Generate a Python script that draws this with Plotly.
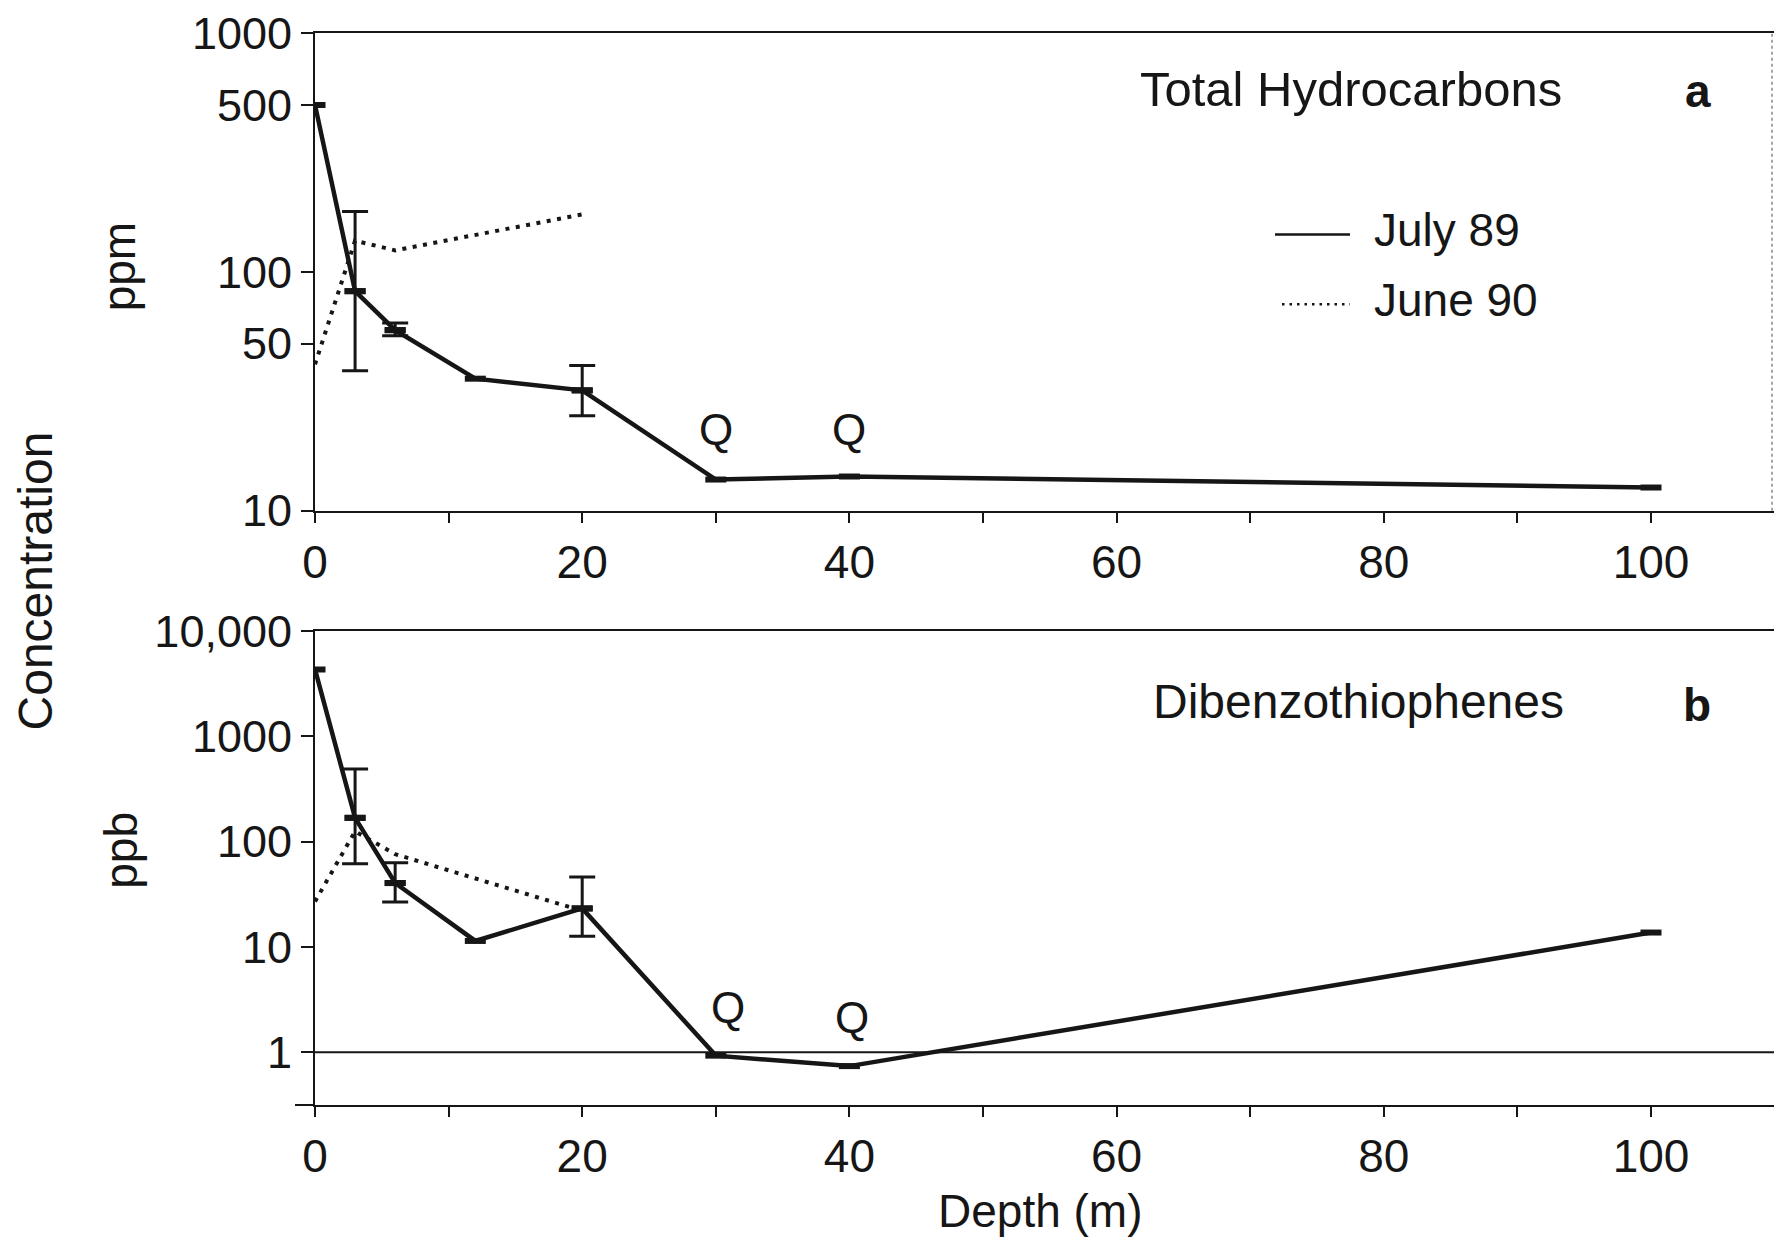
import plotly.graph_objects as go

# ---------------- data ----------------
depth_jul = [0, 3, 6, 12, 20, 30, 40, 100]
thc_jul = [500, 83, 57, 35.7, 31.9, 13.5, 13.9, 12.5]
thc_jul_hi = [None, 179, 61, None, 40.5, None, None, None]
thc_jul_lo = [None, 38.5, 54, None, 25, None, None, None]

depth_jun = [0, 3, 6, 20]
thc_jun = [41, 135, 123, 174]

dbt_jul = [4300, 168, 40.4, 11.4, 23.2, 0.93, 0.74, 13.7]
dbt_jul_hi = [None, 488, 63, None, 46, None, None, None]
dbt_jul_lo = [None, 61.7, 26.7, None, 12.6, None, None, None]

dbt_jun = [27, 125, 76, 22]

x_ticks = [0, 20, 40, 60, 80, 100]
thc_ticks = [10, 50, 100, 500, 1000]
thc_ticktext = ["10", "50", "100", "500", "1000"]
dbt_ticks = [1, 10, 100, 1000, 10000]
dbt_ticktext = ["1", "10", "100", "1000", "10,000"]
q_depths = [30, 40]

# ---------------- style ----------------
INK = "#161616"
FONT = "Liberation Sans, Arial, Helvetica, sans-serif"
OFF = 8  # page body margin
W, H = 1782 - 2 * OFF, 1249 - 2 * OFF
ML = 315 - OFF
MT = 30 - OFF
MR = 0
MB = H - (1105 - OFF)
PW, PH = W - ML - MR, H - MT - MB


def px_x(p):
    return (p - OFF - ML) / PW


def px_y(p):
    return (H - MB - (p - OFF)) / PH


marker_style = dict(symbol="line-ew", size=15, line=dict(color=INK, width=6), color=INK)

fig = go.Figure()


def add_panel(vals, hi, lo, jun, xa, ya):
    fig.add_trace(go.Scatter(
        x=depth_jul, y=vals, mode="lines+markers", xaxis=xa, yaxis=ya,
        line=dict(color=INK, width=4.5), marker=marker_style, showlegend=False,
        hoverinfo="x+y"))
    idx = [i for i in range(len(vals)) if hi[i] is not None]
    fig.add_trace(go.Scatter(
        x=[depth_jul[i] for i in idx], y=[vals[i] for i in idx], mode="markers",
        xaxis=xa, yaxis=ya, marker=marker_style, showlegend=False,
        error_y=dict(type="data", symmetric=False,
                     array=[hi[i] - vals[i] for i in idx],
                     arrayminus=[vals[i] - lo[i] for i in idx],
                     color=INK, thickness=3, width=13)))
    fig.add_trace(go.Scatter(
        x=depth_jun, y=jun, mode="lines", xaxis=xa, yaxis=ya,
        line=dict(color=INK, width=4, dash="4px,6.5px"), showlegend=False))


add_panel(thc_jul, thc_jul_hi, thc_jul_lo, thc_jun, "x", "y")
add_panel(dbt_jul, dbt_jul_hi, dbt_jul_lo, dbt_jun, "x2", "y2")

top_bottom = px_y(509)
bot_top = px_y(629.5)

xcommon = dict(range=[0, PW / 13.36], tickvals=x_ticks, ticks="outside", ticklen=10,
               tickwidth=2, tickcolor=INK, showline=True, linewidth=2, linecolor=INK,
               mirror=True, showgrid=False, zeroline=False, ticklabeloverflow="allow",
               minor=dict(dtick=10, tick0=0, ticks="outside", ticklen=10, tickwidth=2,
                          tickcolor=INK),
               tickfont=dict(size=46, color=INK, family=FONT))
ycommon = dict(type="log", ticks="outside", ticklen=12, tickwidth=2, tickcolor=INK,
               showline=True, linewidth=2, linecolor=INK, showgrid=False, zeroline=False,
               ticklabeloverflow="allow",
               tickfont=dict(size=45, color=INK, family=FONT))

fig.update_layout(
    width=W, height=H,
    margin=dict(l=ML, r=MR, t=MT, b=MB, pad=0),
    paper_bgcolor="white", plot_bgcolor="white",
    font=dict(family=FONT, color=INK),
    xaxis=dict(domain=[0, 1], anchor="y", **xcommon),
    yaxis=dict(domain=[top_bottom, 1], anchor="x", range=[1, 3.0001],
               tickvals=thc_ticks, ticktext=thc_ticktext, **ycommon),
    xaxis2=dict(domain=[0, 1], anchor="y2", **xcommon),
    yaxis2=dict(domain=[0, bot_top], anchor="x2", range=[-0.5, 4.0001],
                tickvals=dbt_ticks, ticktext=dbt_ticktext, **ycommon),
)

shapes = [
    # reference line at 1 ppb
    dict(type="line", xref="x2 domain", yref="y2", x0=0, x1=1, y0=1, y1=1,
         line=dict(color=INK, width=2)),
    # bottom axis extension to the left
    dict(type="line", xref="paper", yref="paper", x0=px_x(295), x1=0, y0=0, y1=0,
         line=dict(color=INK, width=2)),
    # faint right frame
    dict(type="line", xref="paper", yref="paper", x0=px_x(1772), x1=px_x(1772),
         y0=top_bottom, y1=1, line=dict(color="#888", width=1.5, dash="dot")),
    # legend samples
    dict(type="line", xref="paper", yref="paper", x0=px_x(1275), x1=px_x(1350),
         y0=px_y(232), y1=px_y(232), line=dict(color=INK, width=2.5)),
    dict(type="line", xref="paper", yref="paper", x0=px_x(1282), x1=px_x(1350),
         y0=px_y(302), y1=px_y(302), line=dict(color=INK, width=2.5, dash="2.5px,5px")),
]
fig.update_layout(shapes=shapes)

ann = []


def text(x, y, s, size=47, bold=False, angle=0, xanchor="center"):
    ann.append(dict(x=px_x(x), y=px_y(y), xref="paper", yref="paper", text=s,
                    showarrow=False, xanchor=xanchor, yanchor="middle", textangle=angle,
                    font=dict(size=size, color=INK, family=FONT,
                              weight="bold" if bold else "normal")))


text(1351, 86, "Total Hydrocarbons", 49)
text(1698, 88, "a", 46, bold=True)
text(1372, 228, "July 89", 46, xanchor="left")
text(1372, 298, "June 90", 46, xanchor="left")
text(1358, 700, "Dibenzothiophenes", 48)
text(1697, 704, "b", 46, bold=True)
text(1040, 1211, "Depth (m)", 46)
text(35, 580, "Concentration", 48, angle=-90)
text(119, 265, "ppm", 46, angle=-90)
text(121, 850, "ppb", 46, angle=-90)

q_top_y = [428, 428]
q_bot_y = [1007, 1017]
for d, yy in zip(q_depths, q_top_y):
    ann.append(dict(x=d, y=px_y(yy), xref="x", yref="paper", text="Q", showarrow=False,
                    xanchor="center", yanchor="middle",
                    font=dict(size=44, color=INK, family=FONT)))
for d, yy, dx in zip(q_depths, q_bot_y, [0.9, 0.2]):
    ann.append(dict(x=d + dx, y=px_y(yy), xref="x2", yref="paper", text="Q",
                    showarrow=False, xanchor="center", yanchor="middle",
                    font=dict(size=44, color=INK, family=FONT)))

fig.update_layout(annotations=ann)

fig.write_html("out.html")
